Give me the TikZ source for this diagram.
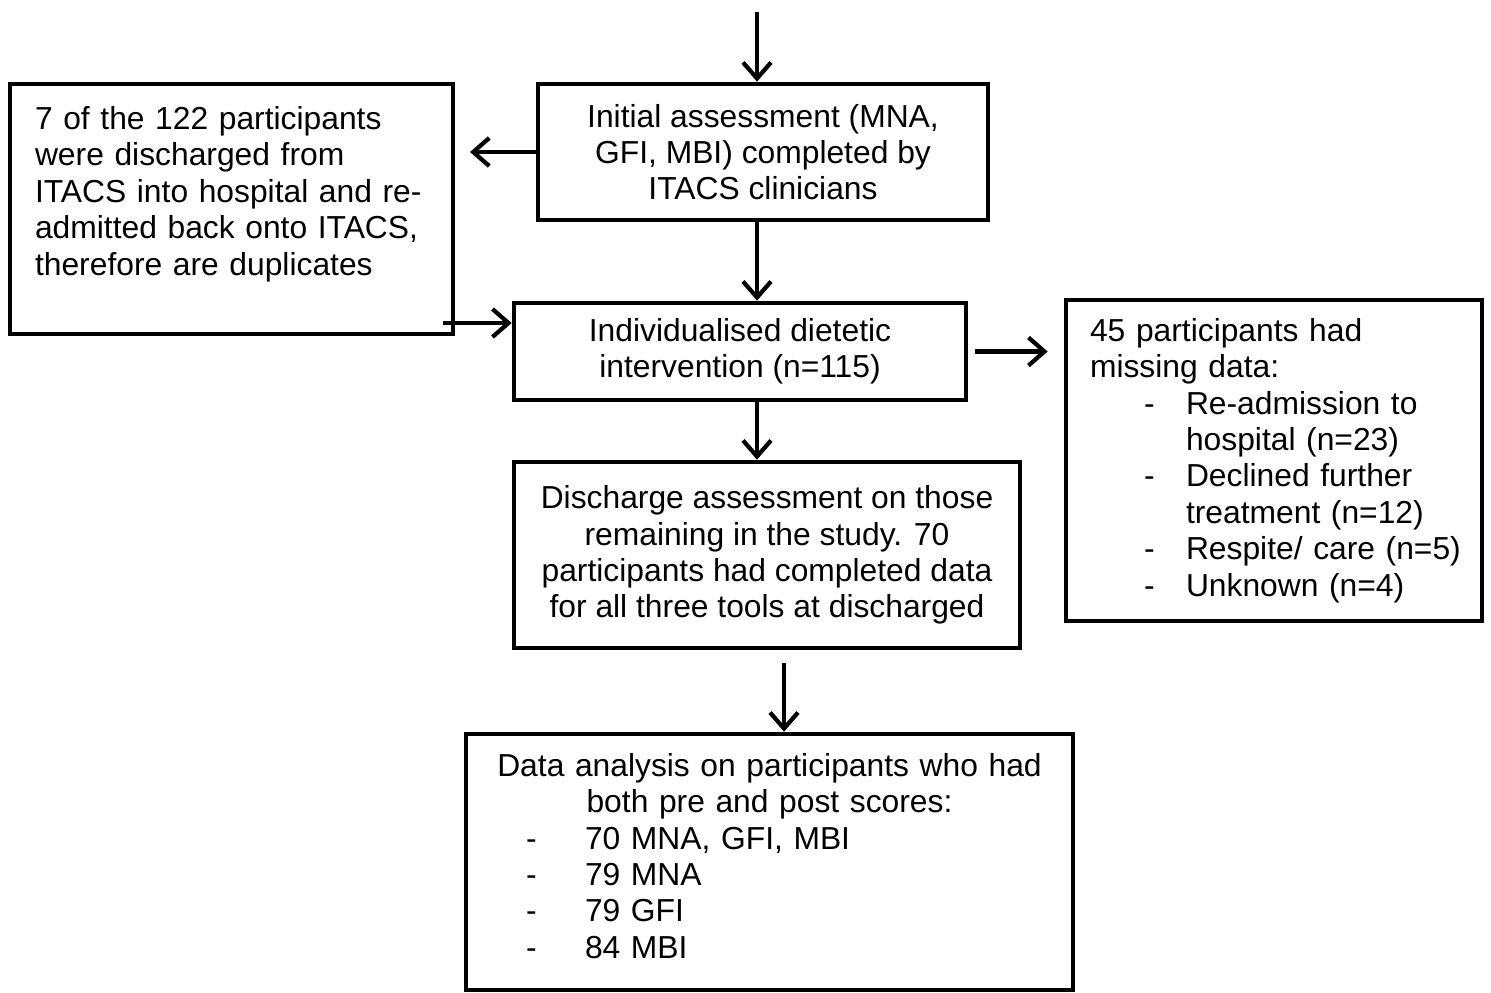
\documentclass[tikz,border=0pt]{standalone}
\usepackage{fontspec}
\setmainfont{Liberation Sans}
\usetikzlibrary{arrows.meta,calc}
\newcommand{\rline}[1]{\makebox[7.36cm][l]{#1}}
\begin{document}
\begin{tikzpicture}[x=0.02cm,y=-0.02cm,
  box/.style={draw=black,line width=2.7pt,inner sep=0pt,font=\fontsize{18.1pt}{20.7pt}\selectfont},
  arr/.style={line width=2.4pt,-{Straight Barb[length=0.32cm,width=0.56cm,line width=2.4pt]}}]
\useasboundingbox (0,0) rectangle (1491,992);
\node[box,minimum width=9cm,minimum height=2.72cm,align=center] (A) at (763,152)
  {Initial assessment (MNA,\\GFI, MBI) completed by\\ITACS clinicians};
\node[box,minimum width=8.86cm,minimum height=5cm,text width=7.86cm,align=left] (L) at (231.5,209)
  {7 of the 122 participants\\were discharged from\\ITACS into hospital and re-\\admitted back onto ITACS,\\therefore are duplicates\\\mbox{}};
\node[box,minimum width=9.04cm,minimum height=1.94cm,align=center] (I) at (740,351.5)
  {Individualised dietetic\\intervention (n=115)};
\node[box,minimum width=8.32cm,minimum height=6.42cm,text width=7.36cm,align=left] (R) at (1274,460.5)
  {\rline{45 participants had}\\\rline{missing data:}\\
   \rline{\hspace*{1.08cm}\makebox[0.84cm][l]{-}Re-admission to}\\
   \rline{\hspace*{1.92cm}hospital (n=23)}\\
   \rline{\hspace*{1.08cm}\makebox[0.84cm][l]{-}Declined further}\\
   \rline{\hspace*{1.92cm}treatment (n=12)}\\
   \rline{\hspace*{1.08cm}\makebox[0.84cm][l]{-}Respite/ care (n=5)}\\
   \rline{\hspace*{1.08cm}\makebox[0.84cm][l]{-}Unknown (n=4)}};
\node[box,minimum width=10.12cm,minimum height=3.72cm,align=center] (D) at (767,555)
  {Discharge assessment on those\\remaining in the study. 70\\participants had completed data\\for all three tools at discharged};
\node[box,minimum width=12.14cm,minimum height=5.12cm,text width=11.14cm,align=left] (E) at (769.5,862)
  {\makebox[11.14cm]{Data analysis on participants who had}\\
   \makebox[11.14cm]{both pre and post scores:}\\
   \hspace*{0.7cm}\makebox[1.18cm][l]{-}70 MNA, GFI, MBI\\
   \hspace*{0.7cm}\makebox[1.18cm][l]{-}79 MNA\\
   \hspace*{0.7cm}\makebox[1.18cm][l]{-}79 GFI\\
   \hspace*{0.7cm}\makebox[1.18cm][l]{-}84 MBI\\[-0.48cm]\mbox{}};
\coordinate (top) at (757,12);
\coordinate (xa) at (757,0);
\coordinate (lend) at (470,0);
\coordinate (lstart) at (443,323);
\coordinate (dstart) at (784,663);
\draw[arr] (top) -- (top |- A.north);
\draw[arr] (A.west) -- (A.west -| lend);
\draw[arr] (lstart) -- (lstart -| I.west);
\draw[arr] (A.south -| xa) -- (I.north -| xa);
\draw[arr] ([xshift=0.14cm]I.east) -- ([xshift=-0.32cm]I.east -| R.west);
\draw[arr] (I.south -| xa) -- (D.north -| xa);
\draw[arr] (dstart) -- (dstart |- E.north);
\end{tikzpicture}
\end{document}
